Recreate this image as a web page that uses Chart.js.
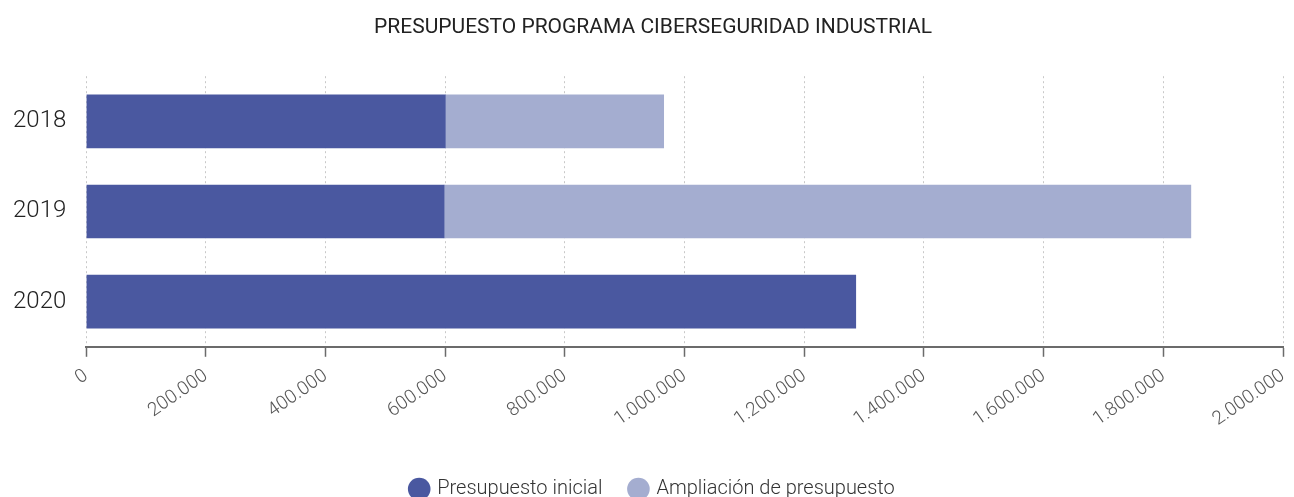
<!DOCTYPE html>
<html lang="es">
<head>
    <meta charset="UTF-8">
    <title>Presupuesto programa ciberseguridad industrial</title>
    <script src="https://cdn.jsdelivr.net/npm/chart.js"></script>
    <style>
        html, body {
            margin: 0;
            padding: 0;
            background: #fff;
        }
        .chart-box {
            width: 1294px;
            height: 497px;
        }
    </style>
</head>
<body>
    <div class="chart-box">
        <canvas id="budgetChart" width="1294" height="497"></canvas>
    </div>

    <script>
        // Datos
        const years = ['2018', '2019', '2020'];
        const presupuestoInicial = [600000, 598000, 1286000];
        const ampliacion = [365000, 1248000, null];
        const xTicks = [0, 200000, 400000, 600000, 800000, 1000000, 1200000, 1400000, 1600000, 1800000, 2000000];

        function formatEs(v) {
            return String(v).replace(/\B(?=(\d{3})+(?!\d))/g, '.');
        }

        const ctx = document.getElementById('budgetChart').getContext('2d');

        new Chart(ctx, {
            type: 'bar',
            data: {
                labels: years,
                datasets: [
                    {
                        label: 'Presupuesto inicial',
                        data: presupuestoInicial,
                        backgroundColor: '#4a58a0',
                        barThickness: 53
                    },
                    {
                        label: 'Ampliación de presupuesto',
                        data: ampliacion,
                        backgroundColor: '#a4add0',
                        barThickness: 53
                    }
                ]
            },
            options: {
                indexAxis: 'y',
                responsive: false,
                animation: false,
                layout: {
                    padding: { top: 6, right: 0, bottom: -12, left: 12 }
                },
                scales: {
                    x: {
                        stacked: true,
                        min: 0,
                        max: 2000000,
                        afterBuildTicks: function (axis) {
                            axis.ticks = xTicks.map(v => ({ value: v }));
                        },
                        // un poco de aire entre las etiquetas y la leyenda
                        afterFit: function (axis) {
                            axis.height += 12;
                            axis.paddingRight = 11;
                        },
                        border: { display: true, color: '#6b6b6b', width: 2, dash: [2, 3] },
                        grid: {
                            color: '#c8c8c8',
                            tickColor: '#6b6b6b',
                            tickBorderDash: [],
                            tickWidth: 1.5,
                            tickLength: 10
                        },
                        ticks: {
                            minRotation: 35,
                            maxRotation: 35,
                            padding: 8,
                            color: '#555',
                            font: { family: 'Roboto', size: 19, weight: 300 },
                            callback: function (value) { return formatEs(value); }
                        }
                    },
                    y: {
                        stacked: true,
                        afterFit: function (axis) {
                            axis.width -= 11;
                        },
                        border: { display: false },
                        grid: { display: false },
                        ticks: {
                            padding: 12,
                            color: '#222',
                            font: { family: 'Roboto', size: 24, weight: 300 }
                        }
                    }
                },
                plugins: {
                    title: {
                        display: true,
                        text: 'PRESUPUESTO PROGRAMA CIBERSEGURIDAD INDUSTRIAL',
                        color: '#222',
                        font: { family: 'Roboto', size: 21, weight: 'normal' },
                        padding: { top: 9, bottom: 36 }
                    },
                    legend: {
                        position: 'bottom',
                        labels: {
                            usePointStyle: true,
                            pointStyle: 'circle',
                            boxWidth: 16,
                            boxHeight: 16,
                            padding: 28,
                            color: '#333',
                            font: { family: 'Roboto', size: 20, weight: 300 }
                        }
                    },
                    tooltip: { enabled: false }
                }
            }
        });
    </script>
</body>
</html>
